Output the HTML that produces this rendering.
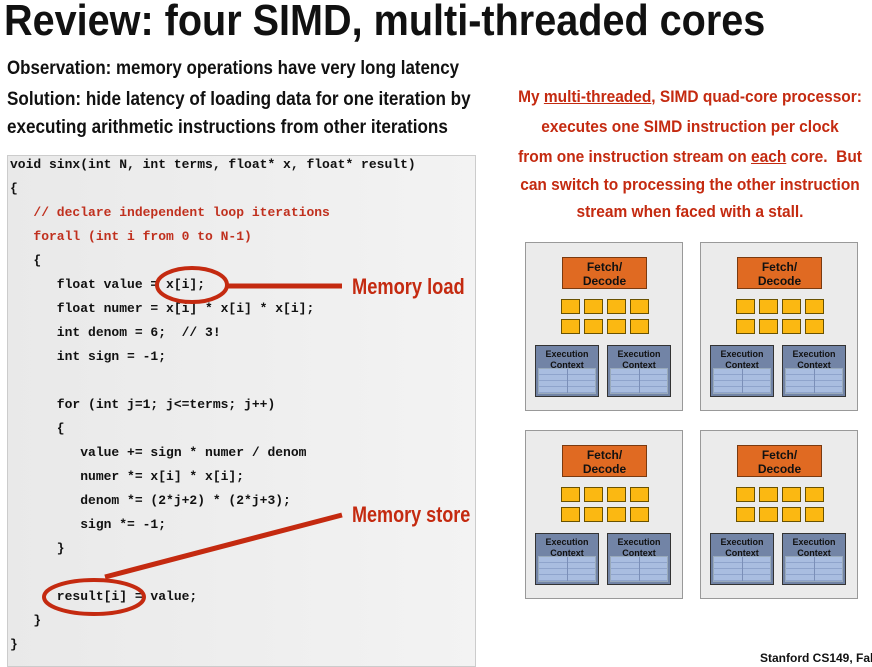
<!DOCTYPE html>
<html><head><meta charset="utf-8"><style>
body{margin:0;width:872px;height:658px;background:#fff;position:relative;overflow:hidden;font-family:"Liberation Sans",sans-serif}
.t{position:absolute;white-space:pre;font-weight:bold;transform-origin:0 0}
.code{position:absolute;left:7px;top:155px;width:467px;height:510px;background:linear-gradient(90deg,#e9e9e9,#f3f3f3);border:1px solid #ccc}
.c{position:absolute;left:10px;font-family:"Liberation Mono",monospace;font-size:13px;font-weight:bold;white-space:pre;color:#111;line-height:16px}
.r{color:#c0301e}
.rl{position:absolute;left:440px;width:500px;text-align:center;font-weight:bold;font-size:17px;color:#c42a10;white-space:pre;transform:scaleX(0.91);transform-origin:250px 0}
.core{position:absolute;width:156px;height:167px;background:#ebebeb;border:1px solid #999}
.fd{position:absolute;left:36px;top:14px;width:85px;height:32px;background:#e06a22;border:1px solid #7a3a10;font:bold 12px/14px "Liberation Sans",sans-serif;text-align:center;padding-top:2px;box-sizing:border-box;color:#111}
.sq{position:absolute;width:17px;height:13px;background:#fbb812;border:1px solid #6a5200}
.ec{position:absolute;top:102px;width:64px;height:52px;background:#7284a6;border:1px solid #333;font:bold 9px/11px "Liberation Sans",sans-serif;text-align:center;color:#111;box-sizing:border-box;padding-top:3px}
.ec i{position:absolute;left:2px;right:2px;bottom:2px;height:24px;background:repeating-linear-gradient(#a9bde0 0 5px,#8fa4cc 5px 6px);border:1px solid #9ab}
.ec i:after{content:"";position:absolute;left:50%;top:0;bottom:0;border-left:1px solid #7b8fb8}
</style></head><body>
<div class="t" style="left:4px;top:-4px;font-size:44px;color:#111;transform:scaleX(0.9)">Review: four SIMD, multi-threaded cores</div>
<div class="t" style="left:7px;top:58px;font-size:19px;color:#111;transform:scaleX(0.89)">Observation: memory operations have very long latency</div>
<div class="t" style="left:7px;top:89px;font-size:19px;color:#111;transform:scaleX(0.9)">Solution: hide latency of loading data for one iteration by</div>
<div class="t" style="left:7px;top:117px;font-size:19px;color:#111;transform:scaleX(0.9)">executing arithmetic instructions from other iterations</div>
<div class="rl" style="top:87px">My <u>multi-threaded</u>, SIMD quad-core processor:</div>
<div class="rl" style="top:117px">executes one SIMD instruction per clock</div>
<div class="rl" style="top:147px">from one instruction stream on <u>each</u> core.  But</div>
<div class="rl" style="top:175px">can switch to processing the other instruction</div>
<div class="rl" style="top:202px">stream when faced with a stall.</div>
<div class="code"></div>
<div class="c" style="top:157px">void sinx(int N, int terms, float* x, float* result)</div>
<div class="c" style="top:181px">{</div>
<div class="c r" style="top:205px">   // declare independent loop iterations</div>
<div class="c r" style="top:229px">   forall (int i from 0 to N-1)</div>
<div class="c" style="top:253px">   {</div>
<div class="c" style="top:277px">      float value = x[i];</div>
<div class="c" style="top:301px">      float numer = x[i] * x[i] * x[i];</div>
<div class="c" style="top:325px">      int denom = 6;  // 3!</div>
<div class="c" style="top:349px">      int sign = -1;</div>
<div class="c" style="top:397px">      for (int j=1; j&lt;=terms; j++)</div>
<div class="c" style="top:421px">      {</div>
<div class="c" style="top:445px">         value += sign * numer / denom</div>
<div class="c" style="top:469px">         numer *= x[i] * x[i];</div>
<div class="c" style="top:493px">         denom *= (2*j+2) * (2*j+3);</div>
<div class="c" style="top:517px">         sign *= -1;</div>
<div class="c" style="top:541px">      }</div>
<div class="c" style="top:589px">      result[i] = value;</div>
<div class="c" style="top:613px">   }</div>
<div class="c" style="top:637px">}</div>
<svg style="position:absolute;left:0;top:0" width="872" height="658">
<ellipse cx="192" cy="285" rx="35" ry="17" fill="none" stroke="#c42a10" stroke-width="4"/>
<line x1="227" y1="286" x2="342" y2="286" stroke="#c42a10" stroke-width="5"/>
<ellipse cx="94" cy="597" rx="50" ry="17" fill="none" stroke="#c42a10" stroke-width="4"/>
<line x1="105" y1="577" x2="342" y2="515" stroke="#c42a10" stroke-width="5"/>
</svg>
<div class="t" style="left:352px;top:274px;font-size:22px;color:#c42a10;transform:scaleX(0.83)">Memory load</div>
<div class="t" style="left:352px;top:502px;font-size:22px;color:#c42a10;transform:scaleX(0.82)">Memory store</div>
<div class="t" style="left:760px;top:651px;font-size:12px;color:#111">Stanford CS149, Fall 2019</div>
<div id="cores"></div>
<script>
var pos=[[525,242],[700,242],[525,430],[700,430]],h='';
pos.forEach(function(p){
 h+='<div class="core" style="left:'+p[0]+'px;top:'+p[1]+'px"><div class="fd">Fetch/<br>Decode</div>';
 for(var r=0;r<2;r++)for(var k=0;k<4;k++)h+='<div class="sq" style="left:'+(35+k*23)+'px;top:'+(56+r*20)+'px"></div>';
 h+='<div class="ec" style="left:9px">Execution<br>Context<i></i></div><div class="ec" style="left:81px">Execution<br>Context<i></i></div></div>';
});
document.getElementById('cores').innerHTML=h;
</script>
</body></html>
